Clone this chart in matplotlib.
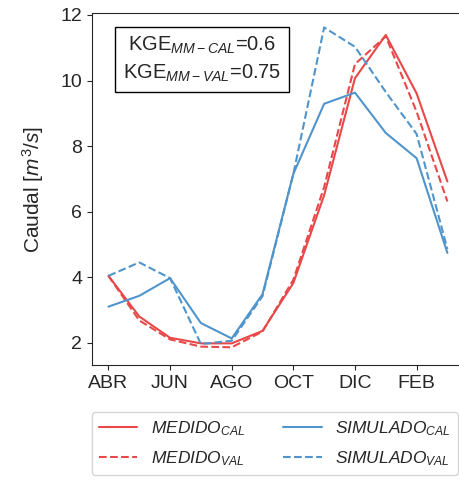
import matplotlib
matplotlib.use('Agg')
import matplotlib.pyplot as plt
import seaborn as sns

months = ['ABR', 'MAY', 'JUN', 'JUL', 'AGO', 'SEP', 'OCT', 'NOV', 'DIC', 'ENE', 'FEB', 'MAR']
tick_labels = ['ABR', 'JUN', 'AGO', 'OCT', 'DIC', 'FEB']

medido_cal = [4.04, 2.80, 2.15, 1.98, 1.98, 2.36, 3.82, 6.50, 10.07, 11.39, 9.61, 6.92]
medido_val = [4.04, 2.68, 2.10, 1.88, 1.86, 2.34, 3.92, 6.75, 10.50, 11.35, 9.05, 6.31]
simulado_cal = [3.10, 3.43, 3.97, 2.60, 2.13, 3.48, 7.15, 9.29, 9.63, 8.40, 7.63, 4.74]
simulado_val = [4.04, 4.45, 3.97, 1.96, 2.06, 3.42, 7.15, 11.62, 11.03, 9.65, 8.37, 4.86]

kge_cal = 0.6
kge_val = 0.75


def main():
    sns.set_style('ticks')
    plt.rcParams['font.family'] = ['Liberation Sans', 'DejaVu Sans']
    plt.rcParams['mathtext.fontset'] = 'custom'
    plt.rcParams['mathtext.rm'] = 'Liberation Sans'
    plt.rcParams['mathtext.it'] = 'Liberation Sans:italic'

    red = '#e94849'
    blue = '#4f95cc'

    fig = plt.figure(figsize=(4.59, 4.80), dpi=100)
    ax = fig.add_axes([0.2, 0.2396, 0.815, 0.7326])

    x = list(range(len(months)))
    ax.plot(x, medido_cal, color=red, lw=1.5, label=r'$MEDIDO_{CAL}$')
    ax.plot(x, medido_val, color=red, lw=1.5, ls='--', label=r'$MEDIDO_{VAL}$')
    ax.plot(x, simulado_cal, color=blue, lw=1.5, label=r'$SIMULADO_{CAL}$')
    ax.plot(x, simulado_val, color=blue, lw=1.5, ls='--', label=r'$SIMULADO_{VAL}$')

    ax.set_xlim(-0.54, 11.6)
    ax.set_ylim(1.32, 12.05)
    ax.set_xticks([months.index(m) for m in tick_labels])
    ax.set_xticklabels(tick_labels)
    ax.set_yticks([2, 4, 6, 8, 10, 12])
    ax.tick_params(labelsize=14)
    ax.set_ylabel(r'Caudal [$m^3/s$]', fontsize=15, labelpad=10)

    txt = ('KGE$_{MM-CAL}$=' + str(kge_cal) + '\n'
           'KGE$_{MM-VAL}$=' + str(kge_val))
    ax.text(0.295, 0.87, txt, transform=ax.transAxes, ha='center', va='center',
            fontsize=14.5, linespacing=1.4,
            bbox=dict(boxstyle='square,pad=0.4', fc='white', ec='black', lw=1))

    ax.legend(ncol=2, loc='upper left', bbox_to_anchor=(0.0, -0.135),
              borderaxespad=0, fontsize=12.5, frameon=True, handlelength=2.2,
              columnspacing=2.2, labelspacing=0.65)

    fig.savefig('out.png', dpi=100)


if __name__ == '__main__':
    main()
